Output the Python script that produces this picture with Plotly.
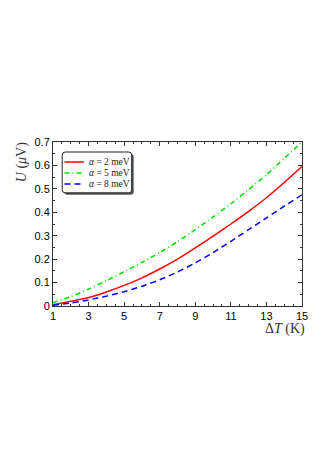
import plotly.graph_objects as go

delta_t = [1, 2, 3, 4, 5, 6, 7, 8, 9, 10, 11, 12, 13, 14, 15]
u_alpha2 = [0.005, 0.020, 0.036, 0.060, 0.088, 0.120, 0.158, 0.200, 0.248,
            0.298, 0.350, 0.404, 0.462, 0.527, 0.595]
u_alpha5 = [0.014, 0.040, 0.072, 0.108, 0.146, 0.186, 0.228, 0.275, 0.326,
            0.380, 0.436, 0.497, 0.560, 0.630, 0.700]
u_alpha8 = [0.003, 0.013, 0.026, 0.042, 0.061, 0.084, 0.112, 0.145, 0.184,
            0.228, 0.276, 0.326, 0.376, 0.426, 0.475]

x_ticks = [1, 3, 5, 7, 9, 11, 13, 15]
y_ticks = [0, 0.1, 0.2, 0.3, 0.4, 0.5, 0.6, 0.7]
y_tick_labels = ["0", "0.1", "0.2", "0.3", "0.4", "0.5", "0.6", "0.7"]

series = [
    ("<i>α</i> = 2 meV", u_alpha2, "#ff0000", "solid"),
    ("<i>α</i> = 5 meV", u_alpha5, "#00e000", "5px,3px,1px,3px"),
    ("<i>α</i> = 8 meV", u_alpha8, "#0000ff", "6px,4px"),
]

fig = go.Figure()
for name, vals, color, dash in series:
    fig.add_trace(go.Scatter(
        x=delta_t, y=vals, mode="lines", name=name, showlegend=False,
        line={"color": color, "width": 1.5, "dash": dash,
              "shape": "spline", "smoothing": 0.6},
    ))

axis_common = dict(
    showgrid=False, zeroline=False, showline=True, linecolor="#333",
    linewidth=1, mirror="ticks", ticks="inside", ticklen=4,
    tickcolor="#333", tickfont={"family": "Liberation Sans", "size": 11,
                                "color": "black"},
)
fig.update_xaxes(
    range=[1, 15], tickvals=x_ticks,
    minor={"dtick": 0.5, "ticks": "inside", "ticklen": 2, "tickcolor": "#333"},
    **axis_common,
)
fig.update_yaxes(
    range=[0, 0.7], tickvals=y_ticks, ticktext=y_tick_labels,
    minor={"dtick": 0.05, "ticks": "inside", "ticklen": 2, "tickcolor": "#333"},
    **axis_common,
)

serif = {"family": "Liberation Serif", "size": 14, "color": "#333"}
fig.add_annotation(
    text="<i>U</i> (<i>μ</i>V)", xref="paper", yref="paper", x=-0.125, y=1.01,
    xanchor="center", yanchor="top", textangle=-90, showarrow=False,
    font=serif,
)
fig.add_annotation(
    text="Δ<i>T</i> (K)", xref="paper", yref="paper", x=1.02, y=-0.08,
    xanchor="right", yanchor="top", showarrow=False, font=serif,
)

# hand-made legend box (rounded, with a small drop shadow like the original)
def rounded_box(x0, y0, x1, y1, rx=0.012, ry=0.018):
    return (f"M{x0 + rx},{y0} L{x1 - rx},{y0} Q{x1},{y0} {x1},{y0 + ry} "
            f"L{x1},{y1 - ry} Q{x1},{y1} {x1 - rx},{y1} L{x0 + rx},{y1} "
            f"Q{x0},{y1} {x0},{y1 - ry} L{x0},{y0 + ry} Q{x0},{y0} {x0 + rx},{y0} Z")

bx0, by0, bx1, by1 = 0.037, 0.69, 0.316, 0.939
fig.add_shape(type="path", xref="paper", yref="paper",
              path=rounded_box(bx0 + 0.008, by0 - 0.012, bx1 + 0.008, by1 - 0.012),
              fillcolor="#555", line={"width": 0})
fig.add_shape(type="path", xref="paper", yref="paper",
              path=rounded_box(bx0, by0, bx1, by1),
              fillcolor="white", line={"color": "#222", "width": 1})

row_y = [0.878, 0.811, 0.744]
for (name, _, color, dash), yy in zip(series, row_y):
    fig.add_shape(type="line", xref="paper", yref="paper",
                  x0=0.046, x1=0.124, y0=yy, y1=yy,
                  line={"color": color, "width": 1.5, "dash": dash})
    fig.add_annotation(text=name, xref="paper", yref="paper", x=0.135, y=yy,
                       xanchor="left", yanchor="middle", showarrow=False,
                       font={"family": "Liberation Serif", "size": 9.5,
                             "color": "#222"})

fig.update_layout(
    width=324, height=462,
    margin={"l": 45, "r": 30, "t": 134, "b": 164},
    paper_bgcolor="white", plot_bgcolor="white",
)

fig.write_html("out.html")
